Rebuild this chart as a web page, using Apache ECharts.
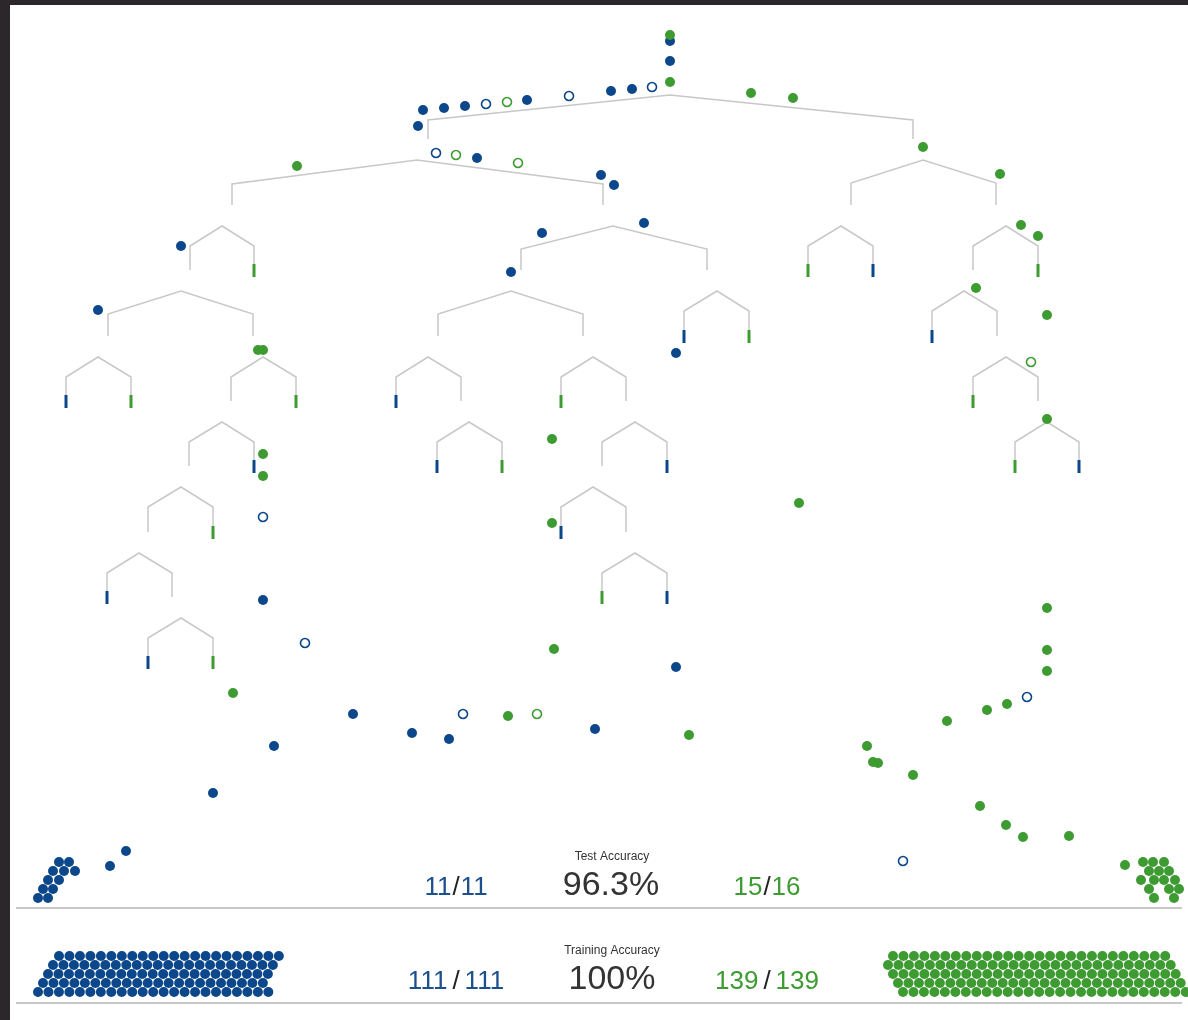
<!DOCTYPE html>
<html>
<head>
<meta charset="utf-8">
<script src="https://cdn.jsdelivr.net/npm/echarts@6/dist/echarts.min.js"></script>
<style>
  html, body { margin: 0; padding: 0; background: #fff; }
  #tree { width: 1188px; height: 1020px; }
</style>
</head>
<body>
<div id="tree"></div>
<script>
// colours
var BLUE = '#0b478a', GREEN = '#3d9b32', GREY = '#c8c8c8';

// y of the apex of each depth of the tree
var levelY = [95, 160, 226, 291, 357, 422, 487, 553, 618, 683];

// splits: [depth, apexX, leftX, rightX, shoulderDrop, leftKind, rightKind]
// kind: 0 = goes on to another split, 1 = blue leaf, 2 = green leaf
var splits = [
    [0, 670, 428, 913, 25, 0, 0],
    [1, 417, 232, 603, 24, 0, 0],
    [1, 923, 851, 996, 23, 0, 0],
    [2, 222, 190, 254, 20, 0, 2],
    [2, 613, 521, 707, 23, 0, 0],
    [2, 841, 808, 873, 20, 2, 1],
    [2, 1006, 973, 1038, 20, 0, 2],
    [3, 181, 108, 253, 23, 0, 0],
    [3, 511, 438, 583, 23, 0, 0],
    [3, 717, 684, 749, 20, 1, 2],
    [3, 964, 932, 997, 20, 1, 0],
    [4, 98, 66, 131, 20, 1, 2],
    [4, 263, 231, 296, 20, 0, 2],
    [4, 428, 396, 461, 20, 1, 0],
    [4, 593, 561, 626, 20, 2, 0],
    [4, 1006, 973, 1038, 20, 2, 0],
    [5, 222, 189, 254, 20, 0, 1],
    [5, 469, 437, 502, 20, 1, 2],
    [5, 635, 602, 667, 20, 0, 1],
    [5, 1047, 1015, 1079, 20, 2, 1],
    [6, 181, 148, 213, 20, 0, 2],
    [6, 593, 561, 626, 20, 1, 0],
    [7, 139, 107, 172, 20, 1, 0],
    [7, 635, 602, 667, 20, 2, 1],
    [8, 181, 148, 213, 20, 1, 2]
];

// samples falling through the tree
var blueDots = [
    [670, 41], [670, 61], [632, 89], [611, 91], [527, 100], [465, 106], [444, 108], [423, 110],
    [418, 126], [477, 158], [601, 175], [614, 185], [181, 246], [98, 310], [542, 233], [644, 223],
    [511, 272], [676, 353], [263, 600], [676, 667], [353, 714], [412, 733], [449, 739], [595, 729],
    [274, 746], [213, 793], [126, 851], [110, 866]
];
var blueRings = [[652, 87], [569, 96], [486, 104], [436, 153], [263, 517], [305, 643], [463, 714], [1027, 697], [903, 861]];
var greenDots = [
    [670, 35], [670, 82], [751, 93], [793, 98], [923, 147], [1000, 174], [297, 166], [258, 350],
    [263, 350], [1021, 225], [1038, 236], [976, 288], [1047, 315], [1047, 419], [552, 439], [263, 454],
    [263, 476], [552, 523], [554, 649], [233, 693], [508, 716], [689, 735], [799, 503], [1047, 608],
    [1047, 650], [1047, 671], [1007, 704], [987, 710], [947, 721], [867, 746], [873, 762], [878, 763],
    [913, 775], [980, 806], [1006, 825], [1023, 837], [1069, 836], [1125, 865]
];
var greenRings = [[507, 102], [456, 155], [518, 163], [1031, 362], [537, 714]];

// test piles
var testBlue = [[59, 862], [69, 862], [53, 871], [64, 871], [75, 871], [48, 880], [59, 880], [43, 889], [53, 889], [38, 898], [48, 898]];
var testGreen = [[1143, 862], [1153, 862], [1164, 862], [1149, 871], [1159, 871], [1169, 871], [1141, 880], [1154, 880],
    [1164, 880], [1175, 880], [1149, 889], [1169, 889], [1179, 889], [1154, 898], [1174, 898]];

// training piles: [startX, y, count] per row
var trainBlueRows = [[59, 956, 22], [53, 965, 22], [48, 974, 22], [43, 983, 22], [38, 992, 23]];
var trainGreenRows = [[893, 956, 27], [888, 965, 28], [893, 974, 28], [898, 983, 28], [903, 992, 28]];

function pile(rows) {
    var out = [];
    rows.forEach(function (r) {
        for (var i = 0; i < r[2]; i++) out.push([r[0] + i * 10.47, r[1]]);
    });
    return out;
}

// build tree branches and leaf bars
var branches = [], blueBars = [], greenBars = [];
splits.forEach(function (s) {
    var ay = levelY[s[0]], ny = levelY[s[0] + 1], sy = ay + s[4];
    var ends = [s[5] ? ny - 26 : ny - 21, s[6] ? ny - 26 : ny - 21];
    branches.push({coords: [[s[2], ends[0]], [s[2], sy], [s[1], ay], [s[3], sy], [s[3], ends[1]]]});
    [[s[2], s[5]], [s[3], s[6]]].forEach(function (c) {
        if (c[1] == 1) blueBars.push({coords: [[c[0], ny - 27], [c[0], ny - 14]]});
        if (c[1] == 2) greenBars.push({coords: [[c[0], ny - 27], [c[0], ny - 14]]});
    });
});

function dots(data, color, size) {
    return {type: 'scatter', data: data, symbolSize: size || 10, itemStyle: {color: color, opacity: 1}, silent: true};
}
function rings(data, color) {
    return {type: 'scatter', data: data, symbolSize: 9,
        itemStyle: {color: '#fff', borderColor: color, borderWidth: 1.6, opacity: 1}, silent: true};
}
function bars(data, color, w) {
    return {type: 'lines', coordinateSystem: 'cartesian2d', polyline: true, data: data,
        lineStyle: {color: color, width: w, opacity: 1}, silent: true};
}

var myChart = echarts.init(document.getElementById('tree'));

var fracRich = {
    b: {fontSize: 26, fill: '#1c4f8e', fontFamily: 'Liberation Sans'},
    g: {fontSize: 26, fill: '#3d9b32', fontFamily: 'Liberation Sans'},
    s: {fontSize: 26, fill: '#222', fontFamily: 'Liberation Sans', padding: [0, 1]},
    w: {fontSize: 26, fill: '#222', fontFamily: 'Liberation Sans', padding: [0, 5]}
};
function label(x, y, text, size, rich) {
    return {type: 'text', x: x, y: y, silent: true, z: 10,
        style: {text: text, fill: '#333', font: size + 'px "Liberation Sans"', align: 'center', verticalAlign: 'middle', rich: rich}};
}

option = {
    animation: false,
    grid: {left: 0, right: 0, top: 0, bottom: 0},
    xAxis: {type: 'value', min: 0, max: 1188, show: false},
    yAxis: {type: 'value', min: 0, max: 1020, inverse: true, show: false},
    graphic: [
        {type: 'rect', shape: {x: 0, y: 0, width: 1188, height: 5}, style: {fill: '#2b272b'}, silent: true},
        {type: 'rect', shape: {x: 0, y: 0, width: 10, height: 1020}, style: {fill: '#2b272b'}, silent: true},
        {type: 'line', shape: {x1: 16, y1: 908, x2: 1182, y2: 908}, style: {stroke: GREY, lineWidth: 2}, silent: true},
        {type: 'line', shape: {x1: 16, y1: 1003, x2: 1182, y2: 1003}, style: {stroke: GREY, lineWidth: 2}, silent: true},
        label(612, 857, 'Test Accuracy', 12),
        label(611, 886, '96.3%', 34),
        label(456, 888, '{b|11}{s|/}{b|11}', 26, fracRich),
        label(767, 888, '{g|15}{s|/}{g|16}', 26, fracRich),
        label(612, 951, 'Training Accuracy', 12),
        label(612, 980, '100%', 34),
        label(456, 982, '{b|111}{w|/}{b|111}', 26, fracRich),
        label(767, 982, '{g|139}{w|/}{g|139}', 26, fracRich)
    ],
    series: [
        bars(branches, GREY, 1.5),
        bars(blueBars, BLUE, 3),
        bars(greenBars, GREEN, 3),
        dots(blueDots, BLUE),
        rings(blueRings, BLUE),
        dots(greenDots, GREEN),
        rings(greenRings, GREEN),
        dots(testBlue, BLUE),
        dots(testGreen, GREEN),
        dots(pile(trainBlueRows), BLUE),
        dots(pile(trainGreenRows), GREEN)
    ]
};

myChart.setOption(option);
</script>
</body>
</html>
